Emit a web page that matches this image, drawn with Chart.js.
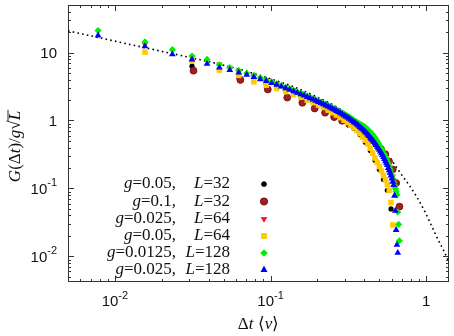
<!DOCTYPE html>
<html><head><meta charset="utf-8">
<script src="https://cdn.jsdelivr.net/npm/chart.js@4/dist/chart.umd.min.js"></script>
<style>html,body{margin:0;padding:0;background:#fff;}#wrap{width:454px;height:336px;}</style>
</head><body><div id="wrap"><canvas id="c" width="454" height="336"></canvas></div>
<script>
// ---- data ----
const xBlue = [0.0078,0.0156,0.0234,0.0313,0.0391,0.0469,0.0547,0.0625,0.0703,0.0781,0.0859,0.0938,0.1016,0.1094,0.1172,0.125,0.1328,0.1406,0.1484,0.1563,0.1641,0.1719,0.1797,0.1875,0.1953,0.2031,0.2109,0.2188,0.2266,0.2344,0.2422,0.25,0.2578,0.2656,0.2734,0.2813,0.2891,0.2969,0.3047,0.3125,0.3203,0.3281,0.3359,0.3438,0.3516,0.3594,0.3672,0.375,0.3828,0.3906,0.3984,0.4063,0.4141,0.4219,0.4297,0.4375,0.4453,0.4531,0.4609,0.4688,0.4766,0.4844,0.4922,0.5,0.5078,0.5156,0.5234,0.5313,0.5391,0.5469,0.5547,0.5625,0.5703,0.5781,0.5859,0.5938,0.6016,0.6094,0.6172,0.625,0.6328,0.6406,0.6484,0.6563];
const yBlue = [17.8,12.3,9.4,7.9,6.8,6.0,5.5,5.05,4.7,4.35,4.05,3.8,3.55,3.35,3.15,2.98,2.83,2.68,2.55,2.43,2.32,2.22,2.12,2.03,1.95,1.87,1.80,1.73,1.66,1.60,1.54,1.48,1.43,1.38,1.33,1.28,1.23,1.18,1.14,1.10,1.06,1.02,0.98,0.94,0.91,0.87,0.84,0.80,0.77,0.74,0.71,0.68,0.65,0.62,0.59,0.56,0.535,0.51,0.485,0.46,0.435,0.41,0.39,0.37,0.35,0.33,0.31,0.29,0.27,0.25,0.235,0.22,0.20,0.185,0.17,0.155,0.14,0.125,0.112,0.078,0.047,0.0245,0.0148,0.0113];
const xGreen = [0.0078,0.0156,0.0234,0.0313,0.0391,0.0469,0.0547,0.0625,0.0703,0.0781,0.0859,0.0938,0.1016,0.1094,0.1172,0.125,0.1328,0.1406,0.1484,0.1563,0.1641,0.1719,0.1797,0.1875,0.1953,0.2031,0.2109,0.2188,0.2266,0.2344,0.2422,0.25,0.2578,0.2656,0.2734,0.2813,0.2891,0.2969,0.3047,0.3125,0.3203,0.3281,0.3359,0.3438,0.3516,0.3594,0.3672,0.375,0.3828,0.3906,0.3984,0.4063,0.4141,0.4219,0.4297,0.4375,0.4453,0.4531,0.4609,0.4688,0.4766,0.4844,0.4922,0.5,0.5078,0.5156,0.5234,0.5313,0.5391,0.5469,0.5547,0.5625,0.5703,0.5781,0.5859,0.5938,0.6016,0.6094,0.6172,0.625,0.6328,0.6406,0.6484,0.6563,0.6641,0.6719];
const yGreen = [21.0,14.3,11.0,8.85,7.9,6.6,6.0,5.4,4.95,4.6,4.25,3.95,3.7,3.45,3.25,3.08,2.92,2.77,2.63,2.5,2.39,2.28,2.18,2.09,2.0,1.92,1.85,1.78,1.71,1.65,1.59,1.53,1.48,1.43,1.38,1.33,1.28,1.24,1.2,1.16,1.12,1.08,1.04,1.0,0.97,0.94,0.91,0.88,0.86,0.84,0.82,0.79,0.76,0.73,0.70,0.67,0.64,0.61,0.58,0.55,0.52,0.49,0.46,0.43,0.405,0.38,0.355,0.33,0.31,0.29,0.27,0.25,0.23,0.21,0.19,0.17,0.155,0.14,0.125,0.11,0.1,0.09,0.08,0.045,0.0295,0.017];
const xRed = [0.0156,0.0313,0.0469,0.0625,0.0781,0.0938,0.1094,0.125,0.1406,0.1563,0.1719,0.1875,0.2031,0.2188,0.2344,0.25,0.2656,0.2813,0.2969,0.3125,0.3281,0.3438,0.3594,0.375,0.3906,0.4063,0.4219,0.4375,0.4531,0.4688,0.4844,0.5,0.5156,0.5313,0.5469,0.5625,0.5781,0.5938,0.6094,0.625,0.6406];
const yRed = [13.0,8.6,6.7,5.3,4.5,3.95,3.5,3.12,2.8,2.52,2.3,2.12,1.95,1.8,1.66,1.53,1.42,1.32,1.22,1.13,1.05,0.97,0.9,0.83,0.77,0.71,0.65,0.6,0.55,0.5,0.45,0.41,0.37,0.33,0.3,0.26,0.23,0.19,0.15,0.115,0.087];
const xYellow = [0.0156,0.0313,0.0469,0.0625,0.0781,0.0938,0.1094,0.125,0.1406,0.1563,0.1719,0.1875,0.2031,0.2188,0.2344,0.25,0.2656,0.2813,0.2969,0.3125,0.3281,0.3438,0.3594,0.375,0.3906,0.4063,0.4219,0.4375,0.4531,0.4688,0.4844,0.5,0.5156,0.5313,0.5469,0.5625,0.5781,0.5938,0.6094];
const yYellow = [10.1,7.5,5.5,4.6,3.7,3.3,2.95,2.65,2.4,2.2,2.0,1.83,1.68,1.55,1.42,1.3,1.2,1.1,1.01,0.93,0.85,0.78,0.71,0.64,0.57,0.51,0.45,0.39,0.33,0.28,0.24,0.21,0.18,0.155,0.135,0.115,0.094,0.062,0.029];
const xBlack = [0.0313,0.0625,0.0938,0.125,0.1563,0.1875,0.2188,0.25,0.2813,0.3125,0.3438,0.375,0.4063,0.4375,0.4688,0.5,0.5313,0.5625,0.5938];
const yBlack = [6.3,4.3,3.4,2.75,2.3,1.9,1.6,1.35,1.12,0.93,0.77,0.62,0.48,0.36,0.26,0.19,0.135,0.094,0.05];
const xBrown = [0.032,0.064,0.096,0.128,0.160,0.192,0.224,0.256,0.288,0.320,0.352,0.384,0.416,0.448,0.480,0.512,0.545,0.577,0.609,0.641,0.673];
const yBrown = [5.4,3.95,2.86,2.17,1.82,1.50,1.30,1.12,0.99,0.88,0.78,0.69,0.6,0.52,0.45,0.38,0.32,0.25,0.19,0.12,0.054];
const xFit = [0.005,0.007,0.01,0.015,0.02,0.03,0.05,0.07,0.1,0.14,0.2,0.27,0.35,0.43,0.5,0.57,0.63,0.7,0.78,0.86,0.95,1.03,1.1,1.2,1.3,1.4];
const yFit = [20.8,17.6,14.7,12.0,10.4,8.5,6.5,5.3,4.1,3.15,2.2,1.55,1.0,0.65,0.45,0.31,0.22,0.155,0.11,0.078,0.052,0.036,0.026,0.017,0.012,0.0082];
const legendG = ['0.05','0.1','0.025','0.05','0.0125','0.025'];
const legendL = ['32','32','64','64','128','128'];
const xTickValues = [0.01, 0.1, 1];
const xTickBase = ['10','10','1'];
const xTickExp = ['-2','-1',''];
const yTickValues = [0.01, 0.1, 1, 10];
const yTickBase = ['10','10','1','10'];
const yTickExp = ['-2','-1','',''];

// ---- styles ----
const SERIF = '"Liberation Serif","Times New Roman",serif';
const SANS = '"Liberation Sans",Arial,sans-serif';
const series = [
  {x:xBlack, y:yBlack, style:'circle', r:2.6, bg:'#000000', bc:'#000000', bw:0},
  {x:xBrown, y:yBrown, style:'circle', r:3.4, bg:'#a32020', bc:'#7a1212', bw:1},
  {x:xRed, y:yRed, style:'triangle', rot:180, r:3.6, bg:'#ff1a1a', bc:'#ff1a1a', bw:0},
  {x:xYellow, y:yYellow, style:'rect', r:3.9, bg:'#ffcc00', bc:'#ffcc00', bw:0},
  {x:xGreen, y:yGreen, style:'rectRot', r:3.6, bg:'#00f000', bc:'#00f000', bw:0},
  {x:xBlue, y:yBlue, style:'triangle', rot:0, r:3.9, bg:'#0000ff', bc:'#0000ff', bw:0}
];

const datasets = series.map((s, i) => ({
  data: s.x.map((v, j) => ({x: v, y: s.y[j]})),
  pointStyle: s.style, pointRotation: s.rot || 0, pointRadius: s.r,
  backgroundColor: s.bg, borderColor: s.bc, borderWidth: s.bw,
  showLine: false, order: 5 - i
}));
datasets.push({
  data: xFit.map((v, j) => ({x: v, y: yFit[j]})),
  showLine: true, pointRadius: 0, borderColor: '#000', borderWidth: 1.6,
  borderDash: [1.6, 3.2], cubicInterpolationMode: 'monotone', fill: false, order: 10
});

function rich(ctx, parts, x, y, align, size) {
  let w = 0;
  parts.forEach(p => { ctx.font = (p[1] ? 'italic ' : '') + size + 'px ' + SERIF; w += ctx.measureText(p[0]).width; });
  let cx = align === 'right' ? x - w : (align === 'center' ? x - w / 2 : x);
  const pos = [];
  parts.forEach(p => { ctx.font = (p[1] ? 'italic ' : '') + size + 'px ' + SERIF; ctx.textAlign = 'left'; ctx.fillText(p[0], cx, y); const ww = ctx.measureText(p[0]).width; pos.push([cx, ww]); cx += ww; });
  return pos;
}
function powLabel(ctx, base, exp, x, y, align) {
  ctx.font = '15px ' + SANS; const wb = ctx.measureText(base).width;
  ctx.font = '11px ' + SANS; const we = exp ? ctx.measureText(exp).width : 0;
  const w = wb + we; let sx = align === 'right' ? x - w : x - w / 2;
  ctx.textBaseline = 'middle'; ctx.textAlign = 'left';
  ctx.font = '15px ' + SANS; ctx.fillText(base, sx, y);
  if (exp) { ctx.font = '11px ' + SANS; ctx.fillText(exp, sx + wb, y - 6); }
}
function marker(ctx, s, x, y) {
  ctx.save(); ctx.fillStyle = s.bg; ctx.strokeStyle = s.bc; ctx.lineWidth = s.bw || 0;
  if (Chart.helpers && Chart.helpers.drawPoint) {
    Chart.helpers.drawPoint(ctx, {pointStyle: s.style, rotation: s.rot || 0, radius: s.r, borderWidth: s.bw || 0}, x, y);
    ctx.fill(); if (s.bw) ctx.stroke();
  }
  ctx.restore();
}

const frame = {
  id: 'frame',
  beforeDatasetsDraw(chart) {
    const ctx = chart.ctx, a = chart.chartArea, xs = chart.scales.x, ys = chart.scales.y;
    ctx.save(); ctx.strokeStyle = '#333'; ctx.lineWidth = 1;
    ctx.strokeRect(a.left + 0.5, a.top + 0.5, a.right - a.left - 1, a.bottom - a.top - 1);
    ctx.beginPath();
    for (let e = -3; e <= 1; e++) for (let m = 1; m <= 9; m++) {
      const v = m * Math.pow(10, e); const len = m === 1 ? 6 : 3;
      if (v >= xs.min && v <= xs.max) { const p = Math.round(xs.getPixelForValue(v)) + 0.5;
        ctx.moveTo(p, a.bottom); ctx.lineTo(p, a.bottom - len); ctx.moveTo(p, a.top); ctx.lineTo(p, a.top + len); }
      if (v >= ys.min && v <= ys.max) { const p = Math.round(ys.getPixelForValue(v)) + 0.5;
        ctx.moveTo(a.left, p); ctx.lineTo(a.left + len, p); ctx.moveTo(a.right, p); ctx.lineTo(a.right - len, p); }
    }
    ctx.stroke(); ctx.restore();
  },
  afterDraw(chart) {
    const ctx = chart.ctx, a = chart.chartArea, xs = chart.scales.x, ys = chart.scales.y;
    ctx.save(); ctx.fillStyle = '#111';
    xTickValues.forEach((v, i) => powLabel(ctx, xTickBase[i], xTickExp[i], xs.getPixelForValue(v), a.bottom + 20, 'center'));
    yTickValues.forEach((v, i) => powLabel(ctx, yTickBase[i], yTickExp[i], a.left - 11, ys.getPixelForValue(v) + 1, 'right'));
    // x title
    ctx.textBaseline = 'middle';
    rich(ctx, [['\u0394', false], ['t', true], [' \u27E8', false], ['\u03BD', true], ['\u27E9', false]], (a.left + a.right) / 2, 325, 'center', 17);
    // y title
    ctx.save(); ctx.translate(16, (a.top + a.bottom) / 2 + 3); ctx.rotate(-Math.PI / 2);
    const pos = rich(ctx, [['G', true], ['(\u0394', false], ['t', true], [')/', false], ['g', true], ['\u221A', false], ['L', true]], 0, 0, 'center', 17);
    const lp = pos[pos.length - 1]; ctx.strokeStyle = '#111'; ctx.lineWidth = 0.9;
    ctx.beginPath(); ctx.moveTo(lp[0] - 1, -8); ctx.lineTo(lp[0] + lp[1] + 1, -8); ctx.stroke();
    ctx.restore();
    // legend
    const rowY = [184, 201.5, 219, 236, 253, 270];
    ctx.textBaseline = 'middle';
    legendG.forEach((g, i) => {
      rich(ctx, [['g', true], ['=' + g + ',', false]], 176, rowY[i], 'right', 17);
      rich(ctx, [['L', true], ['=' + legendL[i], false]], 230, rowY[i], 'right', 17);
      marker(ctx, series[i], 264, rowY[i]);
    });
    ctx.restore();
  }
};

new Chart(document.getElementById('c'), {
  type: 'scatter',
  data: {datasets},
  options: {
    responsive: false, animation: false, events: [],
    layout: {padding: {top: 0, right: 1, left: 0, bottom: 0}},
    plugins: {legend: {display: false}, tooltip: {enabled: false}},
    scales: {
      x: {type: 'logarithmic', min: 0.005, max: 1.4, ticks: {display: false}, grid: {display: false}, border: {display: false},
          afterFit(s) { s.height = 54; }},
      y: {type: 'logarithmic', min: 0.0042, max: 50, ticks: {display: false}, grid: {display: false}, border: {display: false},
          afterFit(s) { s.width = 68; }}
    }
  },
  plugins: [frame]
});
</script></body></html>
